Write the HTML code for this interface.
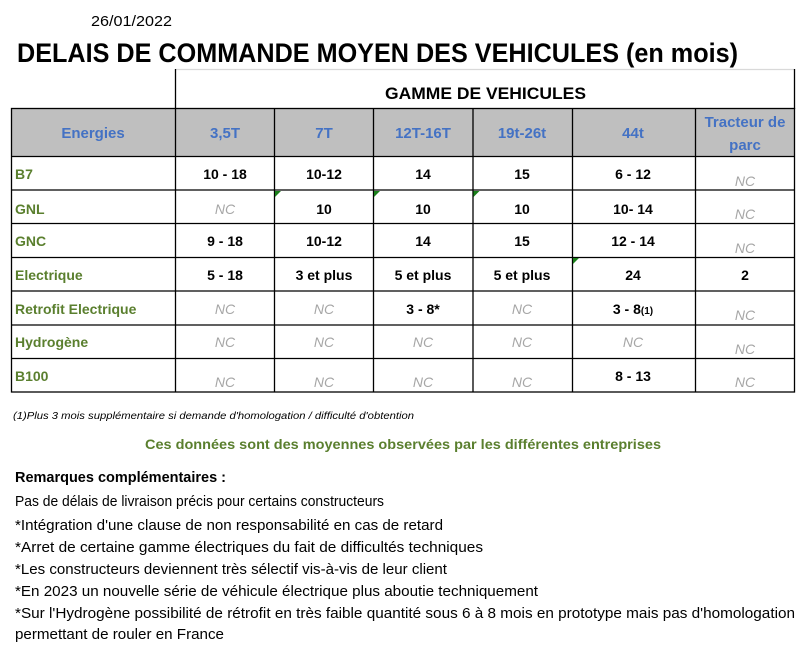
<!DOCTYPE html>
<html><head><meta charset="utf-8"><style>
html,body{margin:0;padding:0;background:#fff;}
svg{display:block;font-family:"Liberation Sans",sans-serif;}
.b{font-weight:bold;font-size:14px;fill:#000;}
.h{font-weight:bold;font-size:15px;fill:#4472c4;}
.g{font-weight:bold;font-size:14px;fill:#5a7f2e;}
.nc{font-style:italic;font-size:14px;fill:#a6a6a6;}
.r{font-size:14.5px;fill:#000;}
</style></head><body>
<svg width="806" height="660" viewBox="0 0 806 660">
<text x="91" y="26" font-size="15" textLength="81" lengthAdjust="spacingAndGlyphs">26/01/2022</text>
<text x="17" y="62" font-size="27" font-weight="bold" textLength="721" lengthAdjust="spacingAndGlyphs">DELAIS DE COMMANDE MOYEN DES VEHICULES (en mois)</text>
<!-- group header -->
<line x1="175.5" y1="69.5" x2="794.5" y2="69.5" stroke="#d9d9d9" stroke-width="1.3"/>
<line x1="175.5" y1="69" x2="175.5" y2="109" stroke="#000" stroke-width="1.3"/>
<line x1="794.5" y1="69" x2="794.5" y2="109" stroke="#000" stroke-width="1.3"/>
<text x="385" y="99" font-size="17" font-weight="bold" textLength="201" lengthAdjust="spacingAndGlyphs">GAMME DE VEHICULES</text>
<!-- header row -->
<rect x="11.5" y="108.5" width="783" height="48" fill="#bfbfbf"/>
<g stroke="#000" stroke-width="1.3" fill="none">
<rect x="11.5" y="108.5" width="783" height="283.5"/>
<line x1="11" y1="156.5" x2="795" y2="156.5"/>
<line x1="11" y1="190" x2="795" y2="190"/>
<line x1="11" y1="223.5" x2="795" y2="223.5"/>
<line x1="11" y1="257.5" x2="795" y2="257.5"/>
<line x1="11" y1="291" x2="795" y2="291"/>
<line x1="11" y1="325" x2="795" y2="325"/>
<line x1="11" y1="358.5" x2="795" y2="358.5"/>
<line x1="175.5" y1="108" x2="175.5" y2="392"/>
<line x1="274.5" y1="108" x2="274.5" y2="392"/>
<line x1="373.5" y1="108" x2="373.5" y2="392"/>
<line x1="473" y1="108" x2="473" y2="392"/>
<line x1="572.5" y1="108" x2="572.5" y2="392"/>
<line x1="695.5" y1="108" x2="695.5" y2="392"/>
</g>
<g fill="#1a7f1a">
<polygon points="275,191 281,191 275,197"/>
<polygon points="374,191 380,191 374,197"/>
<polygon points="473.5,191 479.5,191 473.5,197"/>
<polygon points="573,258 579,258 573,264"/>
</g>
<g text-anchor="middle">
<text class="h" x="93" y="138">Energies</text>
<text class="h" x="225" y="138">3,5T</text>
<text class="h" x="324" y="138">7T</text>
<text class="h" x="423" y="138">12T-16T</text>
<text class="h" x="522" y="138">19t-26t</text>
<text class="h" x="633" y="138">44t</text>
<text class="h" x="745" y="127">Tracteur de</text>
<text class="h" x="745" y="150">parc</text>
</g>
<g>
<text class="g" x="15" y="179">B7</text>
<text class="g" x="15" y="214">GNL</text>
<text class="g" x="15" y="246">GNC</text>
<text class="g" x="15" y="280">Electrique</text>
<text class="g" x="15" y="314">Retrofit Electrique</text>
<text class="g" x="15" y="347">Hydrogène</text>
<text class="g" x="15" y="381">B100</text>
</g>
<g text-anchor="middle">
<text class="b" x="225" y="179">10 - 18</text><text class="b" x="324" y="179">10-12</text><text class="b" x="423" y="179">14</text><text class="b" x="522" y="179">15</text><text class="b" x="633" y="179">6 - 12</text><text class="nc" x="745" y="186">NC</text>
<text class="nc" x="225" y="214">NC</text><text class="b" x="324" y="214">10</text><text class="b" x="423" y="214">10</text><text class="b" x="522" y="214">10</text><text class="b" x="633" y="214">10- 14</text><text class="nc" x="745" y="219">NC</text>
<text class="b" x="225" y="246">9 - 18</text><text class="b" x="324" y="246">10-12</text><text class="b" x="423" y="246">14</text><text class="b" x="522" y="246">15</text><text class="b" x="633" y="246">12 - 14</text><text class="nc" x="745" y="253">NC</text>
<text class="b" x="225" y="280">5 - 18</text><text class="b" x="324" y="280">3 et plus</text><text class="b" x="423" y="280">5 et plus</text><text class="b" x="522" y="280">5 et plus</text><text class="b" x="633" y="280">24</text><text class="b" x="745" y="280">2</text>
<text class="nc" x="225" y="314">NC</text><text class="nc" x="324" y="314">NC</text><text class="b" x="423" y="314">3 - 8*</text><text class="nc" x="522" y="314">NC</text><text class="b" x="633" y="314">3 - 8<tspan font-size="10">(1)</tspan></text><text class="nc" x="745" y="320">NC</text>
<text class="nc" x="225" y="347">NC</text><text class="nc" x="324" y="347">NC</text><text class="nc" x="423" y="347">NC</text><text class="nc" x="522" y="347">NC</text><text class="nc" x="633" y="347">NC</text><text class="nc" x="745" y="354">NC</text>
<text class="nc" x="225" y="387">NC</text><text class="nc" x="324" y="387">NC</text><text class="nc" x="423" y="387">NC</text><text class="nc" x="522" y="387">NC</text><text class="b" x="633" y="381">8 - 13</text><text class="nc" x="745" y="387">NC</text>
</g>
<text x="13" y="419" font-size="10.5" font-style="italic" textLength="401" lengthAdjust="spacingAndGlyphs">(1)Plus 3 mois supplémentaire si demande d'homologation / difficulté d'obtention</text>
<text x="145" y="449" font-size="14" font-weight="bold" fill="#5a7f2e" textLength="516" lengthAdjust="spacingAndGlyphs">Ces données sont des moyennes observées par les différentes entreprises</text>
<text x="15" y="482" font-size="14.5" font-weight="bold" textLength="211" lengthAdjust="spacingAndGlyphs">Remarques complémentaires :</text>
<text class="r" x="15" y="506" textLength="369" lengthAdjust="spacingAndGlyphs">Pas de délais de livraison précis pour certains constructeurs</text>
<text class="r" x="15" y="530" textLength="428" lengthAdjust="spacingAndGlyphs">*Intégration d'une clause de non responsabilité en cas de retard</text>
<text class="r" x="15" y="552" textLength="468" lengthAdjust="spacingAndGlyphs">*Arret de certaine gamme électriques du fait de difficultés techniques</text>
<text class="r" x="15" y="574" textLength="432" lengthAdjust="spacingAndGlyphs">*Les constructeurs deviennent très sélectif vis-à-vis de leur client</text>
<text class="r" x="15" y="596" textLength="523" lengthAdjust="spacingAndGlyphs">*En 2023 un nouvelle série de véhicule électrique plus aboutie techniquement</text>
<text class="r" x="15" y="618" textLength="780" lengthAdjust="spacingAndGlyphs">*Sur l'Hydrogène possibilité de rétrofit en très faible quantité sous 6 à 8 mois en prototype mais pas d'homologation</text>
<text class="r" x="15" y="639" textLength="209" lengthAdjust="spacingAndGlyphs">permettant de rouler en France</text>
</svg>
</body></html>
